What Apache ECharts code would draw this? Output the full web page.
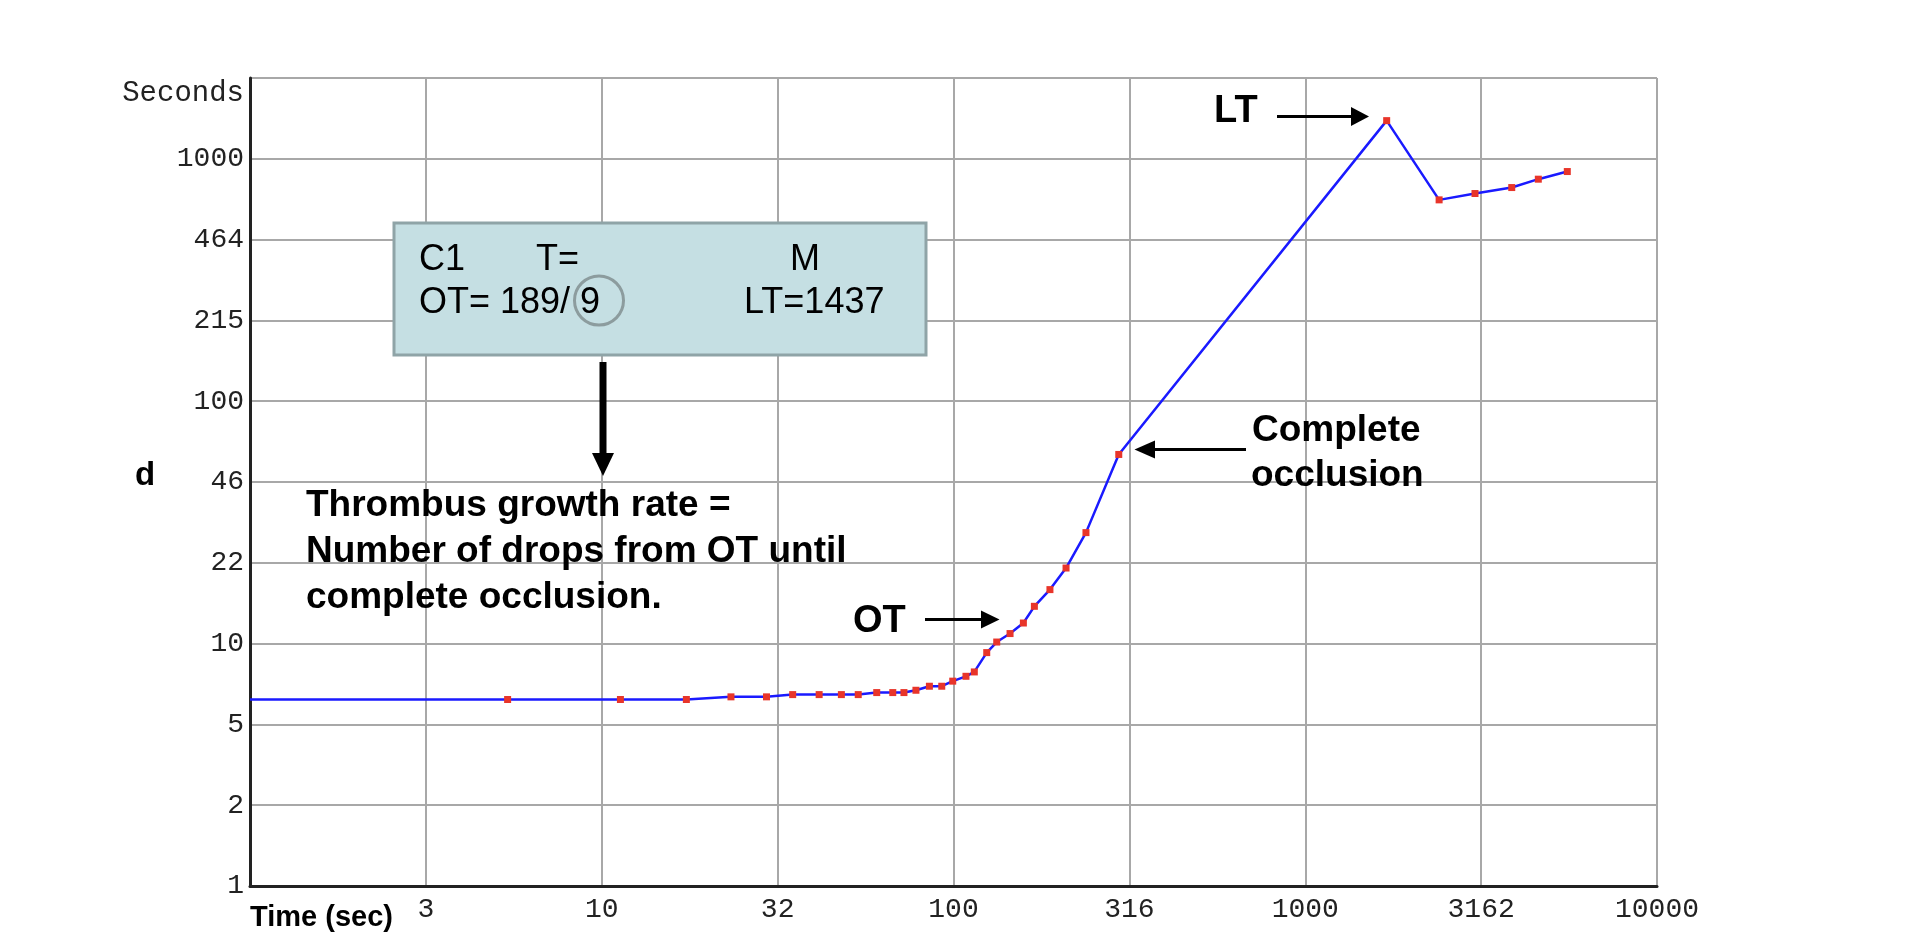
<!DOCTYPE html>
<html>
<head>
<meta charset="utf-8">
<title>Thrombus growth</title>
<script src="https://cdn.jsdelivr.net/npm/echarts@6/dist/echarts.min.js"></script>
<style>
html, body { margin: 0; padding: 0; background: #fff; }
#chart { width: 1920px; height: 938px; }
</style>
</head>
<body>
<div id="chart"></div>
<script>
// time of each drop (sec) and drop interval d (sec)
var timeSec = [1, 5.4, 11.3, 17.4, 23.3, 29.4, 34.9, 41.5, 48, 53.6,
    60.5, 67.2, 72.3, 78.2, 85.4, 92.6, 99.5, 108.5, 114.6, 124.3,
    132.7, 144.8, 158, 169.8, 188, 208.9, 238, 295,
    1704, 2402, 3038, 3864, 4598, 5559];
var dropSec = [5.88, 5.88, 5.88, 5.88, 6.03, 6.03, 6.16, 6.16, 6.16, 6.16,
    6.28, 6.28, 6.28, 6.42, 6.67, 6.67, 7.0, 7.33, 7.64, 9.18,
    10.15, 11.0, 12.16, 14.25, 16.7, 20.5, 28.7, 60.3,
    1437, 677, 719, 761, 824, 886];

var xTickLabels = ['', '3', '10', '32', '100', '316', '1000', '3162', '10000'];
var yTickLabels = ['1', '2', '5', '10', '22', '46', '100', '215', '464', '1000', 'Seconds'];

var xBase = Math.sqrt(10);
var yBase = Math.pow(10, 1 / 3);

var seriesData = timeSec.map(function (t, i) {
    var item = { value: [t, dropSec[i]] };
    if (i === 0) item.symbol = 'none';
    return item;
});

var tickFont = '"Liberation Mono", "DejaVu Sans Mono", monospace';
var sans = '"Liberation Sans", Arial, sans-serif';

// small helper for the black annotation texts
function label(txt, x, y, size) {
    return { type: 'text', x: x, y: y, z: 10,
        style: { text: txt, font: 'bold ' + (size || 37) + 'px ' + sans, fill: '#000', verticalAlign: 'middle' } };
}

var chart = echarts.init(document.getElementById('chart'));
var option = {
    animation: false,
    backgroundColor: '#fff',
    grid: { left: 250, right: 263, top: 78, bottom: 52 },
    xAxis: {
        type: 'log',
        logBase: xBase,
        min: 1,
        max: 10000,
        interval: 1,
        axisLine: { lineStyle: { color: '#222', width: 3 } },
        axisTick: { show: false },
        axisLabel: {
            margin: 10,
            color: '#222',
            fontFamily: tickFont,
            fontSize: 28,
            formatter: function (v, i) { return xTickLabels[i] || ''; }
        },
        splitLine: { show: true, lineStyle: { color: '#a8a8a8', width: 2 } }
    },
    yAxis: {
        type: 'log',
        logBase: yBase,
        min: 1,
        max: Math.pow(10, 10 / 3),
        interval: 1,
        axisLine: { show: true, lineStyle: { color: '#222', width: 3 } },
        axisTick: { show: false },
        axisLabel: {
            margin: 6,
            color: '#222',
            fontFamily: tickFont,
            fontSize: 28,
            formatter: function (v, i) {
                var s = yTickLabels[i] || '';
                return s === 'Seconds' ? '{s|Seconds}' : s;
            },
            rich: {
                s: { fontFamily: tickFont, fontSize: 29, color: '#222', padding: [30, 0, 0, 0] }
            }
        },
        splitLine: { show: true, lineStyle: { color: '#a8a8a8', width: 2 } }
    },
    series: [{
        type: 'line',
        data: seriesData,
        symbol: 'rect',
        symbolSize: 7,
        itemStyle: { color: '#e8352a' },
        lineStyle: { color: '#1a1aff', width: 2.5 },
        z: 3
    }],
    graphic: [
        // info box
        { type: 'rect', shape: { x: 394, y: 223, width: 532, height: 132 },
          style: { fill: '#c5dfe3', stroke: '#8fa4a7', lineWidth: 3 }, z: 10 },
        { type: 'text', x: 419, y: 260, style: { text: 'C1', font: '36px ' + sans, fill: '#000', verticalAlign: 'middle' }, z: 11 },
        { type: 'text', x: 536, y: 260, style: { text: 'T=', font: '36px ' + sans, fill: '#000', verticalAlign: 'middle' }, z: 11 },
        { type: 'text', x: 790, y: 260, style: { text: 'M', font: '36px ' + sans, fill: '#000', verticalAlign: 'middle' }, z: 11 },
        { type: 'text', x: 419, y: 303, style: { text: 'OT= 189/ 9', font: '36px ' + sans, fill: '#000', verticalAlign: 'middle' }, z: 11 },
        { type: 'text', x: 744, y: 303, style: { text: 'LT=1437', font: '36px ' + sans, fill: '#000', verticalAlign: 'middle' }, z: 11 },
        { type: 'circle', shape: { cx: 599, cy: 300.5, r: 24.5 },
          style: { fill: 'none', stroke: '#8c9c9e', lineWidth: 3 }, z: 11 },

        // down arrow from the box
        { type: 'line', shape: { x1: 603, y1: 362, x2: 603, y2: 456 }, style: { stroke: '#000', lineWidth: 7 }, z: 10 },
        { type: 'polygon', shape: { points: [[592, 453], [614, 453], [603, 476]] }, style: { fill: '#000' }, z: 10 },

        // growth rate text
        label('Thrombus growth rate =', 306, 506),
        label('Number of drops from OT until', 306, 552),
        label('complete occlusion.', 306, 598),

        // OT
        label('OT', 853, 622, 38),
        { type: 'line', shape: { x1: 925, y1: 619.5, x2: 984, y2: 619.5 }, style: { stroke: '#000', lineWidth: 3 }, z: 10 },
        { type: 'polygon', shape: { points: [[981, 610.5], [981, 628.5], [999.5, 619.5]] }, style: { fill: '#000' }, z: 10 },

        // complete occlusion
        label('Complete', 1252, 431),
        label('occlusion', 1251, 476),
        { type: 'line', shape: { x1: 1246, y1: 449.5, x2: 1150, y2: 449.5 }, style: { stroke: '#000', lineWidth: 3 }, z: 10 },
        { type: 'polygon', shape: { points: [[1155, 440.5], [1155, 458.5], [1134.5, 449.5]] }, style: { fill: '#000' }, z: 10 },

        // LT
        label('LT', 1214, 112, 38),
        { type: 'line', shape: { x1: 1277, y1: 116.5, x2: 1355, y2: 116.5 }, style: { stroke: '#000', lineWidth: 3 }, z: 10 },
        { type: 'polygon', shape: { points: [[1351, 107], [1351, 126], [1369, 116.5]] }, style: { fill: '#000' }, z: 10 },

        // axis titles
        { type: 'text', x: 145, y: 476, style: { text: 'd', font: 'bold 33px ' + sans, fill: '#000', align: 'center', verticalAlign: 'middle' }, z: 10 },
        label('Time (sec)', 250, 918, 29)
    ]
};
chart.setOption(option);
</script>
</body>
</html>
